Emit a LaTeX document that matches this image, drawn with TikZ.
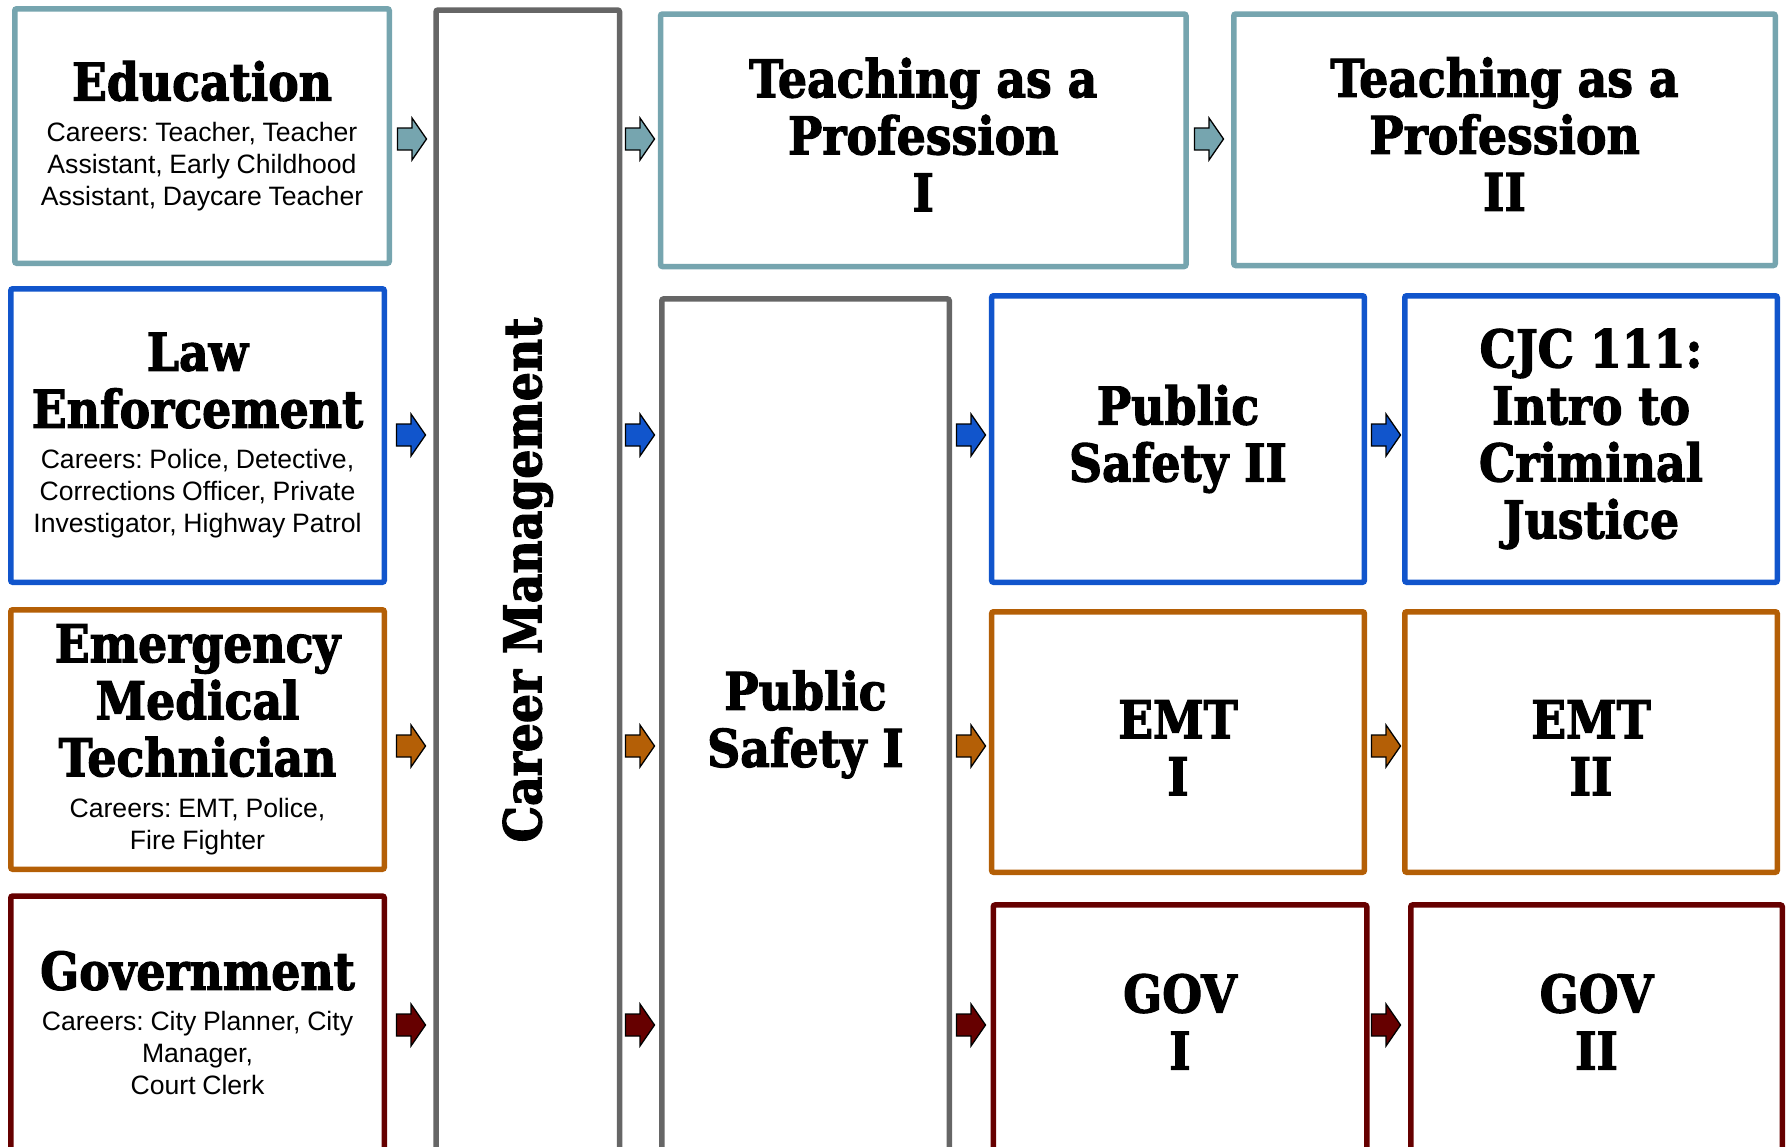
\documentclass[tikz,border=0pt]{standalone}
\usepackage{fontspec}
\setmainfont{Liberation Sans}
\newfontfamily\slabfont{DejaVu Serif}[FakeStretch=0.88,FakeBold=2.2]
\frenchspacing

\definecolor{eduteal}{HTML}{76A5AF}
\definecolor{lawblue}{HTML}{1155CC}
\definecolor{emtorange}{HTML}{B45F06}
\definecolor{govred}{HTML}{660000}
\definecolor{cmgray}{HTML}{666666}

\newcommand{\headfont}{\slabfont\bfseries\fontsize{26}{28.5}\selectfont}
\newcommand{\careerfont}{\fontsize{13.3}{16}\selectfont}

\tikzset{
    blockarrow/.pic={\draw[line width=0.65pt, fill=#1] (-14.5,-11) -- (0,-11) -- (0,-21) -- (14.5,0) -- (0,21) -- (0,11) -- (-14.5,11) -- cycle;}
}

\begin{document}
\begin{tikzpicture}[x=0.5pt, y=-0.5pt,
    box/.style={draw=#1, line width=2.75pt, rounded corners=1pt, fill=white, inner sep=0pt, outer sep=0pt},
    track/.style={box=#1, text width=180pt, align=center},
    course/.style={box=#1, align=center, font=\headfont}]
    \useasboundingbox (0,0) rectangle (1787,1146);
    \clip (0,0) rectangle (1787,1146);

    % career tracks
    \node[track=eduteal, minimum width=187.25pt, minimum height=127.25pt] (edu) at (202,136)
        {{\headfont Education\par}\vspace{4.5pt}{\careerfont Careers: Teacher, Teacher\\Assistant, Early Childhood\\Assistant, Daycare Teacher\par}};
    \node[track=lawblue, minimum width=186.75pt, minimum height=146.75pt] (law) at (197.5,435.5)
        {{\headfont Law\\Enforcement\par}\vspace{4.5pt}{\careerfont Careers: Police, Detective,\\Corrections Officer, Private\\Investigator, Highway Patrol\par}};
    \node[track=emtorange, minimum width=186.75pt, minimum height=129.75pt] (emt) at (197.5,739.5)
        {{\headfont Emergency\\Medical\\Technician\par}\vspace{4.5pt}{\careerfont Careers: EMT, Police,\\Fire Fighter\par}};
    \node[track=govred, minimum width=186.75pt, minimum height=127pt] (gov) at (197.5,1023)
        {{\headfont Government\par}\vspace{4.5pt}{\careerfont Careers: City Planner, City\\Manager,\\Court Clerk\par}};

    % shared courses
    \node[course=cmgray, rotate=90, minimum width=570pt, minimum height=91.75pt] (cm) at (527.75,580) {Career Management};
    \node[course=cmgray, minimum width=143.75pt, minimum height=425.5pt] (ps1) at (805.5,724.4) {Public\\Safety I};

    % pathway courses
    \node[course=eduteal, minimum width=262.75pt, minimum height=126.25pt, text depth=5.7pt] (tp1) at (923.25,140.25) {Teaching as a\\Profession\\I};
    \node[course=eduteal, minimum width=270.75pt, minimum height=125.75pt, text depth=5.7pt] (tp2) at (1504.5,139.75) {Teaching as a\\Profession\\II};
    \node[course=lawblue, minimum width=186.4pt, minimum height=143.25pt] (ps2) at (1178,439) {Public\\Safety II};
    \node[course=lawblue, minimum width=186.25pt, minimum height=143.25pt] (cjc) at (1591,439) {CJC 111:\\Intro to\\Criminal\\Justice};
    \node[course=emtorange, minimum width=186.4pt, minimum height=130.25pt, text height=53.2pt] (emt1) at (1178,742) {EMT\\I};
    \node[course=emtorange, minimum width=186.25pt, minimum height=130.25pt, text height=53.2pt] (emt2) at (1591,742) {EMT\\II};
    \node[course=govred, minimum width=186.75pt, minimum height=122.5pt, text depth=5.7pt] (gov1) at (1180,1027.4) {GOV\\I};
    \node[course=govred, minimum width=185.75pt, minimum height=122.5pt, text depth=5.7pt] (gov2) at (1596.5,1027.4) {GOV\\II};

    % arrows
    \pic (e1) at (412,139) {blockarrow=eduteal};
    \pic (e2) at (640,139) {blockarrow=eduteal};
    \pic (e3) at (1209,139) {blockarrow=eduteal};
    \foreach \r/\c/\y in {l/lawblue/435, m/emtorange/746, g/govred/1025}
        \foreach \x [count=\i] in {411,640,971,1386}
            \pic (\r\i) at (\x,\y) {blockarrow=\c};
\end{tikzpicture}
\end{document}
